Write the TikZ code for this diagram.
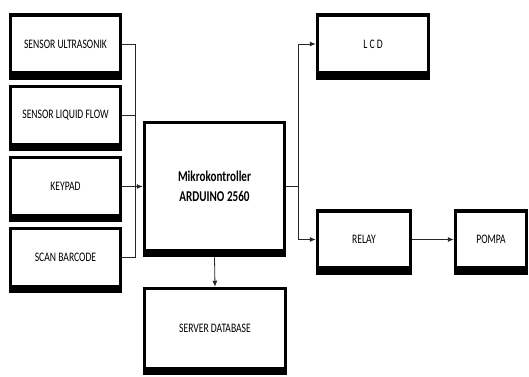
\documentclass[tikz,border=0pt]{standalone}
\usepackage{fontspec}
\setmainfont{Carlito}[FakeStretch=0.74]
\usetikzlibrary{arrows.meta}

\begin{document}
\begin{tikzpicture}[
  x=1pt, y=-1pt,
  block/.style={draw, line width=3.5pt, fill=white, inner sep=0pt,
    font=\fontsize{13}{15}\selectfont},
  wire/.style={line width=0.8pt, draw=black!85},
  arr/.style={wire, -{Latex[length=6pt,width=5pt]}},
]
\useasboundingbox (0,0) rectangle (529,376);

% the inputs
\node[block, minimum width=110pt, minimum height=58pt] (ultra)  at (65.5,44)    {SENSOR ULTRASONIK};
\node[block, minimum width=110pt, minimum height=58pt] (liquid) at (65.5,115.5) {SENSOR LIQUID FLOW};
\node[block, minimum width=110pt, minimum height=58pt] (keypad) at (65.5,186.5) {KEYPAD};
\node[block, minimum width=110pt, minimum height=58pt] (scan)   at (65.5,257.5) {SCAN BARCODE};

% the controller and the database
\node[block, minimum width=140pt, minimum height=128pt, align=center,
  font=\fontsize{15}{20}\selectfont\bfseries] (mikro) at (214.5,186.5)
  {Mikrokontroller\\ARDUINO 2560};
\node[block, minimum width=141pt, minimum height=80pt] (server) at (215,328.5) {SERVER DATABASE};

% the outputs
\node[block, minimum width=111pt, minimum height=58pt] (lcd)   at (373,44)    {L C D};
\node[block, minimum width=93pt,  minimum height=57pt] (relay) at (364,239.5) {RELAY};
\node[block, minimum width=71pt,  minimum height=57pt] (pompa) at (491,239.5) {POMPA};

% heavy bottom edge of every box
\foreach \n in {ultra,liquid,keypad,scan,mikro,server,lcd,relay,pompa} {
  \fill ([yshift=0.5pt]\n.south west) rectangle ([yshift=-5pt]\n.south east);
}

% left bus
\coordinate (lbus) at (135,186.5);
\foreach \n in {ultra,liquid,scan} { \draw[wire] (\n.east) -| (lbus); }
\draw[arr] (keypad.east) -- (mikro.west);

% right bus
\coordinate (rbus) at (298,186.5);
\draw[wire] (mikro.east) -- (rbus);
\draw[arr] (rbus) |- (lcd.west);
\draw[arr] (rbus) |- (relay.west);
\draw[arr] (relay.east) -- (pompa.west);

\draw[arr] ([yshift=-5pt]mikro.south) -- (server.north);

\end{tikzpicture}
\end{document}
